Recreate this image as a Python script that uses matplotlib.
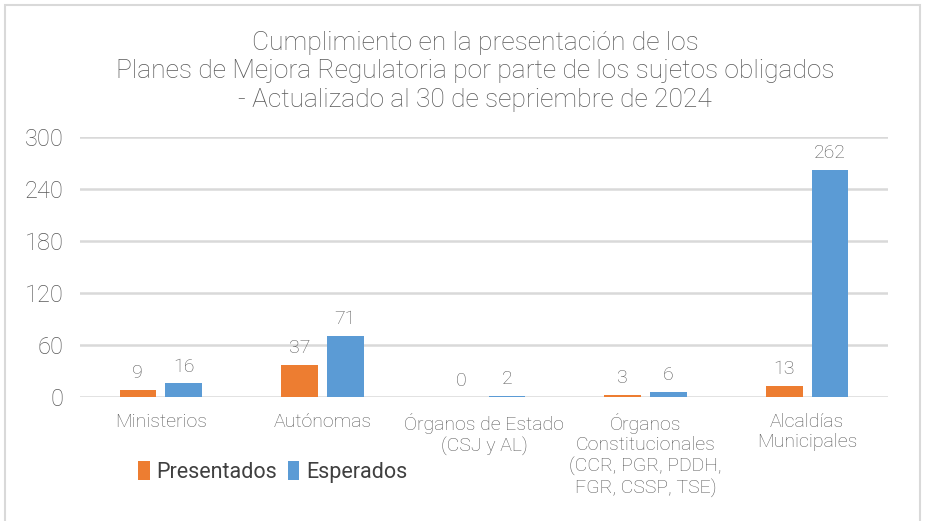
import matplotlib.pyplot as plt
import numpy as np
from matplotlib.patches import Rectangle

# data
categorias = ['Ministerios', 'Autónomas', 'Órganos de Estado\n(CSJ y AL)',
              'Órganos\nConstitucionales\n(CCR, PGR, PDDH,\nFGR, CSSP, TSE)',
              'Alcaldías\nMunicipales']
presentados = [9, 37, 0, 3, 13]
esperados = [16, 71, 2, 6, 262]
yticks = [0, 60, 120, 180, 240, 300]

naranja = '#ED7D31'
azul = '#5B9BD5'
gris = '#595959'
peso = 'light'

plt.rcParams['font.family'] = ['Roboto', 'DejaVu Sans']

fig = plt.figure(figsize=(9.25, 5.21), dpi=100)
ax = fig.add_axes([0.0865, 0.2374, 0.8735, 0.499])

# marco de la figura
fig.patches.append(Rectangle((0.005, -0.05), 0.99, 1.04, transform=fig.transFigure,
                             fill=False, edgecolor='#D9D9D9', linewidth=1.5))

x = np.arange(len(categorias))
w = 0.226
off = 0.142
b1 = ax.bar(x - off, presentados, w, color=naranja, label='Presentados', zorder=3)
b2 = ax.bar(x + off, esperados, w, color=azul, label='Esperados', zorder=3)

for bars, vals in ((b1, presentados), (b2, esperados)):
    for r, v in zip(bars, vals):
        ax.text(r.get_x() + r.get_width() / 2, v + 9, str(v), ha='center', va='bottom',
                fontsize=14, color=gris, fontweight=peso)

ax.set_xlim(-0.5, 4.5)
ax.set_ylim(0, 300)
ax.set_yticks(yticks)
ax.set_yticklabels([str(t) for t in yticks], fontsize=17, color=gris, fontweight=peso)
ax.set_xticks(x)
ax.set_xticklabels(categorias, fontsize=14, color=gris, fontweight=peso, linespacing=1.2)
ax.tick_params(axis='both', length=0)
ax.tick_params(axis='x', pad=11)
ax.tick_params(axis='y', pad=12)
ax.yaxis.grid(True, color='#D9D9D9', linewidth=1.8, zorder=0)
for s in ax.spines.values():
    s.set_visible(False)

fig.text(0.5135, 0.94, 'Cumplimiento en la presentación de los\n'
         'Planes de Mejora Regulatoria por parte de los sujetos obligados\n'
         '- Actualizado al 30 de sepriembre de 2024',
         ha='center', va='top', fontsize=19, color=gris, fontweight=peso, linespacing=1.22)

fig.legend(loc='center left', bbox_to_anchor=(0.149, 0.094), ncol=2, frameon=False,
           fontsize=15.5, handlelength=0.55, handleheight=1.0, handletextpad=0.3,
           columnspacing=0.5, borderpad=0, borderaxespad=0, labelcolor='#404040')

fig.savefig('out.png', dpi=100)
